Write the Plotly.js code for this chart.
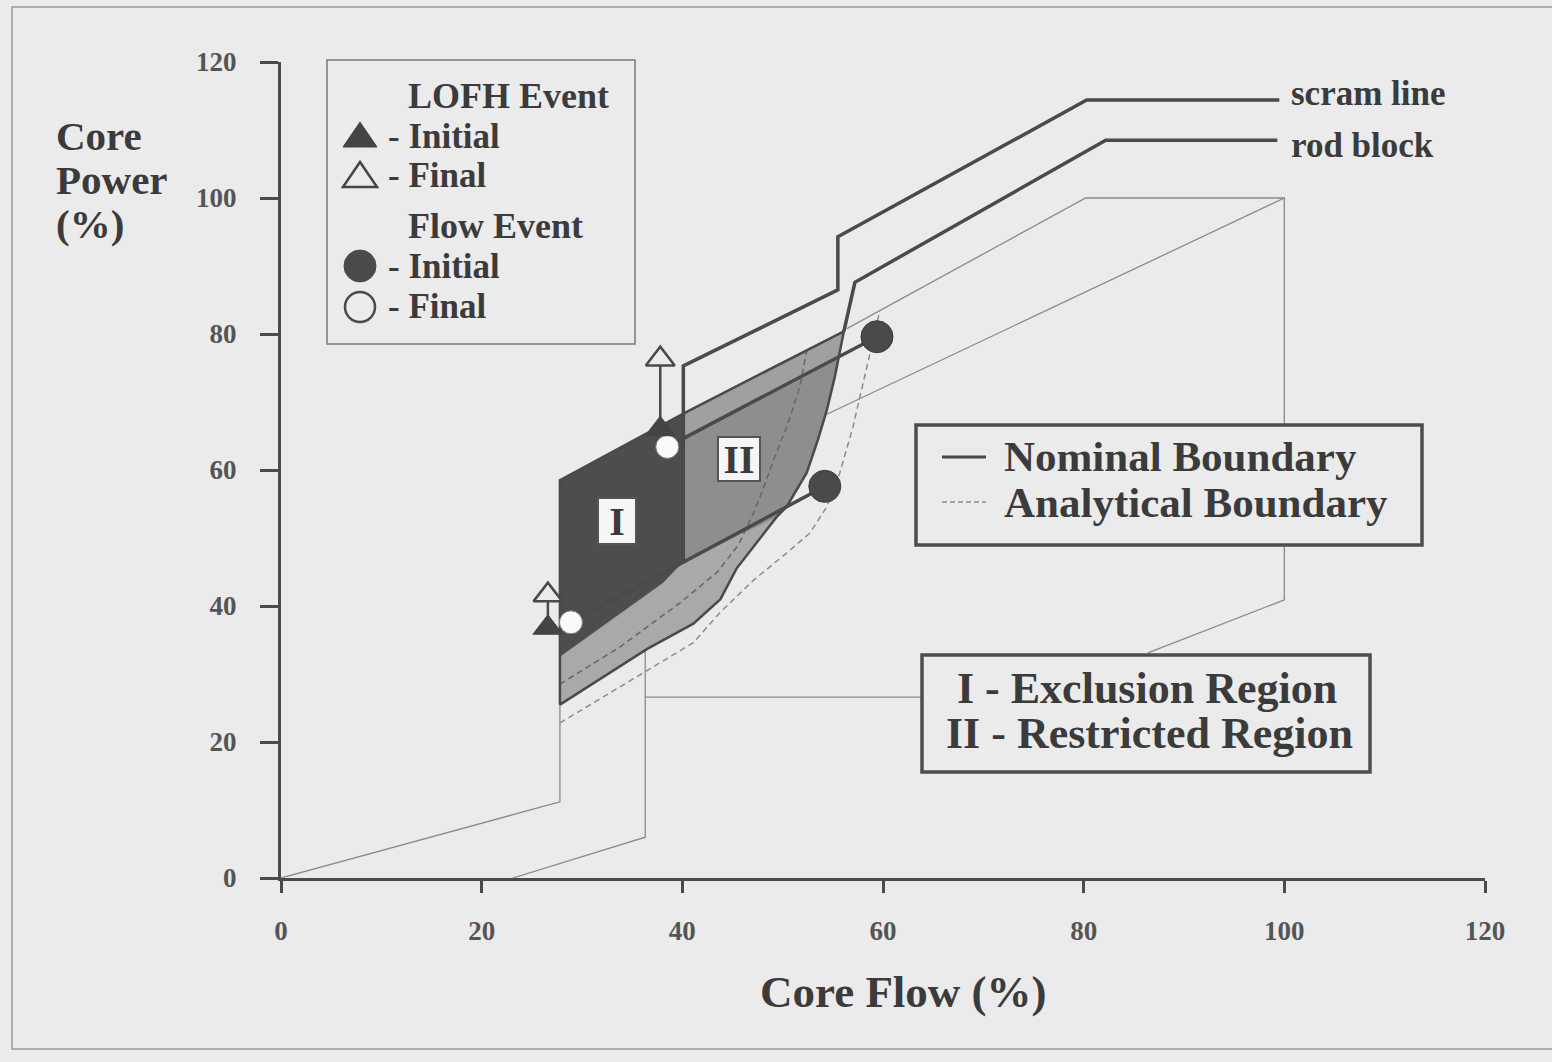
<!DOCTYPE html>
<html>
<head>
<meta charset="utf-8">
<script src="https://cdn.plot.ly/plotly-3.0.1.min.js"></script>
<style>html,body{margin:0;padding:0;background:#ebebeb;}#chart{width:1552px;height:1062px;}</style>
</head>
<body>
<div id="chart"></div>
<script>
// ---------- data (Core Flow %, Core Power %) ----------
const xTicks = [0, 20, 40, 60, 80, 100, 120];
const yTicks = [0, 20, 40, 60, 80, 100, 120];

const scramX = [40.1, 40.1, 55.5, 55.5, 80.3, 99.5];
const scramY = [46.5, 75.3, 86.5, 94.3, 114.4, 114.4];
const rodX = [99.3, 82.2, 57.2, 56.1];
const rodY = [108.5, 108.5, 87.6, 80.4];

const edgeX = [56.1, 55.7, 55.2, 54.4, 53.5, 52.4, 50.4, 49.4, 45.4, 43.8, 41.1, 36.5, 27.8, 27.8, 40.1, 56.1];
const edgeY = [80.4, 77.2, 73.7, 68.8, 64.4, 59.6, 54.6, 53.1, 45.5, 41.0, 37.4, 33.7, 25.5, 58.5, 68.3, 80.4];

const regionIX = [27.8, 27.8, 40.1, 40.1, 36.5, 27.8];
const regionIY = [25.5, 58.5, 68.3, 46.5, 33.7, 25.5];
const bandX = [27.8, 36.5, 41.1, 43.8, 45.4, 49.4, 40.1, 38.1, 27.8, 27.8];
const bandY = [25.5, 33.7, 37.4, 41.0, 45.5, 53.4, 46.5, 43.4, 32.5, 25.5];
const regionIIX = [40.1, 49.4, 50.4, 52.4, 53.5, 54.4, 55.2, 55.7, 56.1, 40.1, 40.1];
const regionIIY = [46.5, 53.1, 54.6, 59.6, 64.4, 68.8, 73.7, 77.2, 80.4, 68.3, 46.5];
const topBandX = [40.1, 56.1, 55.7, 40.1, 40.1];
const topBandY = [68.3, 80.4, 77.0, 64.8, 68.3];

const thinAX = [0, 27.8, 27.8];     const thinAY = [0, 11.2, 25.5];
const thinBX = [23.1, 36.3, 36.3];  const thinBY = [0, 6.0, 33.5];
const thinCX = [36.3, 63.9];        const thinCY = [26.6, 26.6];
const thinDX = [56.4, 80.2, 100, 100, 86.4]; const thinDY = [80.8, 100, 100, 40.9, 33.1];
const thinEX = [54.4, 100];         const thinEY = [68.2, 100];

const anaOutX = [27.8, 36.1, 41.1, 43.8, 47.1, 50.4, 52.7, 54.4, 55.7, 57.0, 58.0, 59.0, 59.7];
const anaOutY = [22.8, 30.1, 34.6, 39.1, 43.8, 47.8, 50.7, 54.6, 59.6, 66.3, 72.8, 79.1, 83.5];
const anaInX = [27.8, 33.8, 39.8, 43.5, 45.6, 47.1, 48.0, 49.1, 50.4, 51.7, 52.4];
const anaInY = [28.5, 34.0, 40.5, 45.0, 49.0, 53.7, 57.0, 61.5, 66.3, 72.2, 77.6];

const lofhInitX = [26.6, 37.8];  const lofhInitY = [36.8, 66.0];
const lofhFinalX = [26.6, 37.8]; const lofhFinalY = [41.6, 76.3];
const flowInitX = [54.2, 59.4];  const flowInitY = [57.6, 79.6];
const flowFinalX = [28.9, 38.5]; const flowFinalY = [37.6, 63.4];

// ---------- styling ----------
const DARK = '#4a4a4a', TXT = '#3b3b3b', BG = '#ebebeb', THIN = '#8a8a8a';
const L = 281, R = 1485, T = 62, B = 878;
const PX = p => (p - L) / (R - L);
const PY = p => (B - p) / (B - T);
const SERIF = 'Liberation Serif';

function line(x, y, color, width, dash) {
  return {x, y, type: 'scatter', mode: 'lines', hoverinfo: 'skip', showlegend: false,
          line: {color, width, dash: dash || 'solid'}};
}
function fill(x, y, color) {
  return {x, y, type: 'scatter', mode: 'lines', fill: 'toself', fillcolor: color,
          line: {color: color, width: 0.5}, hoverinfo: 'skip', showlegend: false};
}
function pairs(x0, y0, x1, y1) {
  const xs = [], ys = [];
  for (let i = 0; i < x0.length; i++) { xs.push(x0[i], x1[i], null); ys.push(y0[i], y1[i], null); }
  return [xs, ys];
}

const traces = [];
traces.push(line(thinAX, thinAY, THIN, 1.3));
traces.push(line(thinBX, thinBY, THIN, 1.3));
traces.push(line(thinCX, thinCY, THIN, 1.3));
traces.push(line(thinDX, thinDY, THIN, 1.3));
traces.push(line(thinEX, thinEY, THIN, 1.3));
traces.push(fill(regionIX, regionIY, '#4d4d4d'));
traces.push(fill(bandX, bandY, '#a9a9a9'));
traces.push(fill(regionIIX, regionIIY, '#8e8e8e'));
traces.push(fill(topBandX, topBandY, '#a0a0a0'));
traces.push(line(anaOutX, anaOutY, '#8c8c8c', 1.5, '6px,4px'));
traces.push(line(anaInX, anaInY, '#666666', 1.5, '6px,4px'));
traces.push(line(edgeX, edgeY, DARK, 2.5));
traces.push(line(scramX, scramY, DARK, 3.5));
traces.push(line(rodX, rodY, DARK, 3.5));
const fp = pairs(flowInitX, flowInitY, flowFinalX, flowFinalY);
traces.push(line(fp[0], fp[1], DARK, 3.5));
const lp = pairs(lofhInitX, lofhInitY, lofhFinalX, lofhFinalY);
traces.push(line(lp[0], lp[1], DARK, 2.5));
traces.push({x: flowFinalX, y: flowFinalY, type: 'scatter', mode: 'markers', name: 'Flow Event - Final', showlegend: false,
  marker: {symbol: 'circle', size: 23, color: '#fafafa', line: {color: '#777', width: 1}}});
traces.push({x: flowInitX, y: flowInitY, type: 'scatter', mode: 'markers', name: 'Flow Event - Initial', showlegend: false,
  marker: {symbol: 'circle', size: 32, color: '#4a4a4a', line: {color: '#3a3a3a', width: 1}}});
traces.push({x: lofhFinalX, y: lofhFinalY, type: 'scatter', mode: 'markers', name: 'LOFH Event - Final', showlegend: false,
  marker: {symbol: 'triangle-up', size: 25, color: BG, line: {color: DARK, width: 2.5}}});
traces.push({x: lofhInitX, y: lofhInitY, type: 'scatter', mode: 'markers', name: 'LOFH Event - Initial', showlegend: false,
  marker: {symbol: 'triangle-up', size: 26, color: '#444', line: {color: '#444', width: 1}}});

function ann(text, px, py, size, xa, extra) {
  return Object.assign({text, xref: 'paper', yref: 'paper', x: PX(px), y: PY(py), xanchor: xa || 'left',
    yanchor: 'middle', showarrow: false, font: {family: SERIF, size, color: TXT, weight: 'bold'}}, extra || {});
}
const annotations = [
  ann('Core', 54, 136, 41), ann('Power', 54, 180, 41), ann('(%)', 54, 224, 41),
  ann('Core Flow (%)', 903, 992, 45, 'center'),
  ann('scram line', 1289, 94, 35), ann('rod block', 1289, 146, 35),
  ann('LOFH Event', 406, 96, 36),
  ann('- Initial', 386, 136, 35), ann('- Final', 386, 176, 35),
  ann('Flow Event', 406, 226, 36),
  ann('- Initial', 386, 266, 35), ann('- Final', 386, 306, 35),
  ann('Nominal Boundary', 1002, 457, 43), ann('Analytical Boundary', 1002, 502, 43),
  ann('I - Exclusion Region', 1147, 688, 44, 'center'), ann('II - Restricted Region', 1149, 733, 44, 'center'),
  {text: 'I', xref: 'x', yref: 'y', x: 33.5, y: 52.5, showarrow: false, width: 34, height: 42,
   bgcolor: '#f6f6f6', bordercolor: '#555', borderwidth: 2, borderpad: 1,
   font: {family: SERIF, size: 40, color: TXT, weight: 'bold'}},
  {text: 'II', xref: 'x', yref: 'y', x: 45.6, y: 61.6, showarrow: false, width: 38, height: 40,
   bgcolor: '#f6f6f6', bordercolor: '#555', borderwidth: 2, borderpad: 1,
   font: {family: SERIF, size: 40, color: TXT, weight: 'bold'}}
];

function rect(x0, y0, x1, y1, w, color, fillc) {
  return {type: 'rect', xref: 'paper', yref: 'paper', x0: PX(x0), x1: PX(x1), y0: PY(y0), y1: PY(y1),
    line: {color, width: w}, fillcolor: fillc || 'rgba(0,0,0,0)', layer: 'above'};
}
function seg(x0, y0, x1, y1, w, color, dash) {
  return {type: 'line', xref: 'paper', yref: 'paper', x0: PX(x0), x1: PX(x1), y0: PY(y0), y1: PY(y1),
    line: {color, width: w, dash: dash || 'solid'}, layer: 'above'};
}
function tri(cx, cy, filled) {
  return {type: 'path', xref: 'paper', yref: 'paper', layer: 'above',
    path: `M ${PX(cx - 17)} ${PY(cy + 12)} L ${PX(cx + 17)} ${PY(cy + 12)} L ${PX(cx)} ${PY(cy - 13)} Z`,
    fillcolor: filled ? '#444' : 'rgba(0,0,0,0)', line: {color: '#444', width: filled ? 1 : 2.5}};
}
function circ(cx, cy, r, filled) {
  return {type: 'circle', xref: 'paper', yref: 'paper', layer: 'above',
    x0: PX(cx - r), x1: PX(cx + r), y0: PY(cy + r), y1: PY(cy - r),
    fillcolor: filled ? '#4a4a4a' : 'rgba(0,0,0,0)', line: {color: '#4a4a4a', width: filled ? 1 : 2.5}};
}
const shapes = [
  {type: 'path', xref: 'paper', yref: 'paper',
   path: `M ${PX(1600)} ${PY(7)} L ${PX(12)} ${PY(7)} L ${PX(12)} ${PY(1049)} L ${PX(1600)} ${PY(1049)}`,
   line: {color: '#9a9a9a', width: 1.5}, layer: 'below'},
  rect(327, 60, 635, 344, 1.5, '#7a7a7a'),
  tri(360, 135, true), tri(360, 175, false),
  circ(360, 266, 16, true), circ(360, 307, 15, false),
  rect(916, 425, 1422, 545, 3.5, '#4d4d4d', BG),
  rect(922, 655, 1370, 772, 3.5, '#4d4d4d', BG),
  seg(942, 457, 986, 457, 3, '#4a4a4a'),
  seg(942, 502, 986, 502, 1.5, '#8c8c8c', '5px,3px')
];

const axisCommon = {
  range: [0, 120], tickvals: xTicks, ticktext: xTicks.map(String), showgrid: false, zeroline: false,
  showline: true, linecolor: '#4a4a4a', linewidth: 3, ticks: 'outside', tickcolor: '#4a4a4a',
  tickwidth: 3, fixedrange: true,
  tickfont: {family: SERIF, size: 27, color: '#555', weight: 'bold'}
};
const layout = {
  width: 1552, height: 1062,
  margin: {l: L, r: 1552 - R, t: T, b: 1062 - B, pad: 0},
  paper_bgcolor: BG, plot_bgcolor: BG,
  font: {family: SERIF, color: TXT},
  xaxis: Object.assign({}, axisCommon, {ticklen: 12, ticklabelstandoff: 15}),
  yaxis: Object.assign({}, axisCommon, {tickvals: yTicks, ticktext: yTicks.map(String), ticklen: 18, ticklabelstandoff: 18}),
  showlegend: false,
  annotations, shapes
};
Plotly.newPlot('chart', traces, layout, {displayModeBar: false, staticPlot: true});
</script>
</body>
</html>
